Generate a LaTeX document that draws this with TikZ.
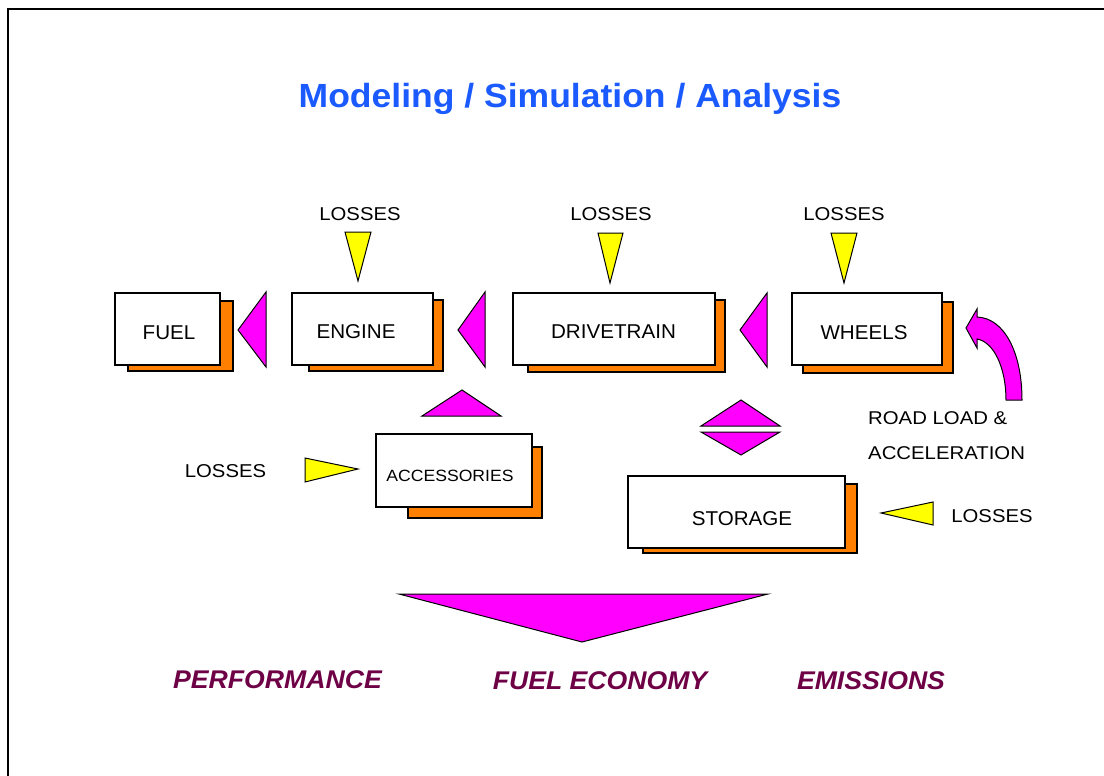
\documentclass[tikz,border=0pt]{standalone}
\usepackage{fontspec}
\setmainfont{Liberation Sans}
\usepackage{graphicx}
\definecolor{shadoworange}{RGB}{255,128,0}
\definecolor{arrowmag}{RGB}{255,0,255}
\definecolor{lossyellow}{RGB}{255,255,0}
\definecolor{titleblue}{RGB}{26,90,255}
\definecolor{resultred}{RGB}{110,0,70}
\newcommand{\sztxt}[3]{\fontsize{#1}{#1}\selectfont\scalebox{#2}[1]{#3}}
\begin{document}
\begin{tikzpicture}[x=1pt,y=-1pt,
  frontbox/.style={draw=black,fill=white,line width=1.2pt},
  shadebox/.style={draw=black,fill=shadoworange,line width=1.2pt},
  magtri/.style={draw=black,fill=arrowmag,line width=1pt,line join=miter},
  yeltri/.style={draw=black,fill=lossyellow,line width=1pt,line join=miter},
  lbl/.style={inner sep=0pt,anchor=base,text=black},
  losslbl/.style={lbl,font=\fontsize{18.6}{18.6}\selectfont},
  boxlbl/.style={lbl},
  reslbl/.style={inner sep=0pt,anchor=base,text=resultred,font=\bfseries\itshape}
]
\useasboundingbox (0,0) rectangle (1104,776);
\fill[white] (0,0) rectangle (1104,776);
% frame
\draw[line width=2pt] (8,776) -- (8,9) -- (1104,9);

% title
\node[inner sep=0pt,anchor=base,text=titleblue,font=\bfseries] (title) at (570,107)
  {\sztxt{33.5}{1.06}{Modeling / Simulation / Analysis}};

% LOSSES top labels
\node[lbl] (lossE) at (360,220) {\sztxt{18.6}{1.09}{LOSSES}};
\node[lbl] (lossD) at (611,220) {\sztxt{18.6}{1.09}{LOSSES}};
\node[lbl] (lossW) at (844,220) {\sztxt{18.6}{1.09}{LOSSES}};

% yellow loss triangles (top)
\filldraw[yeltri] (345,232) -- (371,232) -- (358,281) -- cycle;
\filldraw[yeltri] (598,233) -- (623,233) -- (610,283) -- cycle;
\filldraw[yeltri] (831,233) -- (857,233) -- (844,283) -- cycle;

% boxes: shadows then fronts
\filldraw[shadebox] (128,301) rectangle (233,371);
\filldraw[frontbox] (115,293) rectangle (220,365);
\node[lbl] (fuel) at (169,339) {\sztxt{20}{1.03}{FUEL}};

\filldraw[shadebox] (309,300) rectangle (443,371);
\filldraw[frontbox] (292,293) rectangle (433,365);
\node[lbl] (engine) at (356,338) {\sztxt{20}{1.03}{ENGINE}};

\filldraw[shadebox] (528,300) rectangle (725,372);
\filldraw[frontbox] (513,293) rectangle (715,365);
\node[lbl] (drivetrain) at (613.5,338) {\sztxt{20}{1.03}{DRIVETRAIN}};

\filldraw[shadebox] (803,302) rectangle (953,373);
\filldraw[frontbox] (792,293) rectangle (942,365);
\node[lbl] (wheels) at (864,339) {\sztxt{20}{1.03}{WHEELS}};

\filldraw[shadebox] (408,447) rectangle (542,518);
\filldraw[frontbox] (376,434) rectangle (532,507);
\node[lbl] (acc) at (450,481) {\sztxt{16.3}{1.08}{ACCESSORIES}};

\filldraw[shadebox] (643,484) rectangle (857,553);
\filldraw[frontbox] (628,476) rectangle (845,548);
\node[lbl] (storage) at (742,525) {\sztxt{20}{1.03}{STORAGE}};

% magenta flow triangles
\filldraw[magtri] (266,292) -- (238,330) -- (266,367) -- cycle;
\filldraw[magtri] (485,292) -- (458,330) -- (485,367) -- cycle;
\filldraw[magtri] (767,293) -- (740,330) -- (767,367) -- cycle;
\filldraw[magtri] (422,416) -- (462,390) -- (501,416) -- cycle;
\filldraw[magtri] (701,426) -- (741,400) -- (780,426) -- cycle;
\filldraw[magtri] (701,432) -- (780,432) -- (741,455) -- cycle;

% curved road-load arrow
\filldraw[magtri] (1006,400) -- (1022,400)
  .. controls (1022,352) and (1004,318) .. (977,317)
  -- (977,309) -- (966,328) -- (977,348) -- (977,339)
  .. controls (994,342) and (1006,368) .. (1006,400) -- cycle;

\node[lbl,anchor=base west] (road) at (868,424) {\sztxt{18.5}{1.1}{ROAD LOAD \&}};
\node[lbl,anchor=base west] (accel) at (868,459.3) {\sztxt{18.5}{1.1}{ACCELERATION}};

% side losses
\node[lbl] (lossA) at (225.5,477.5) {\sztxt{18.6}{1.09}{LOSSES}};
\filldraw[yeltri] (305,458) -- (358,469) -- (305,482) -- cycle;

\filldraw[yeltri] (881,513) -- (933,502) -- (933,525) -- cycle;
\node[lbl] (lossS) at (992,522.3) {\sztxt{18.6}{1.09}{LOSSES}};

% big result triangle
\filldraw[magtri] (399,594) -- (768,594) -- (582,642) -- cycle;

% results
\node[reslbl] (perf) at (277.5,688.3) {\sztxt{25.6}{1.04}{PERFORMANCE}};
\node[reslbl] (fueleco) at (600,689.3) {\sztxt{25.6}{1.04}{FUEL ECONOMY}};
\node[reslbl] (emis) at (871,689.3) {\sztxt{25.6}{1.04}{EMISSIONS}};
\end{tikzpicture}
\end{document}
